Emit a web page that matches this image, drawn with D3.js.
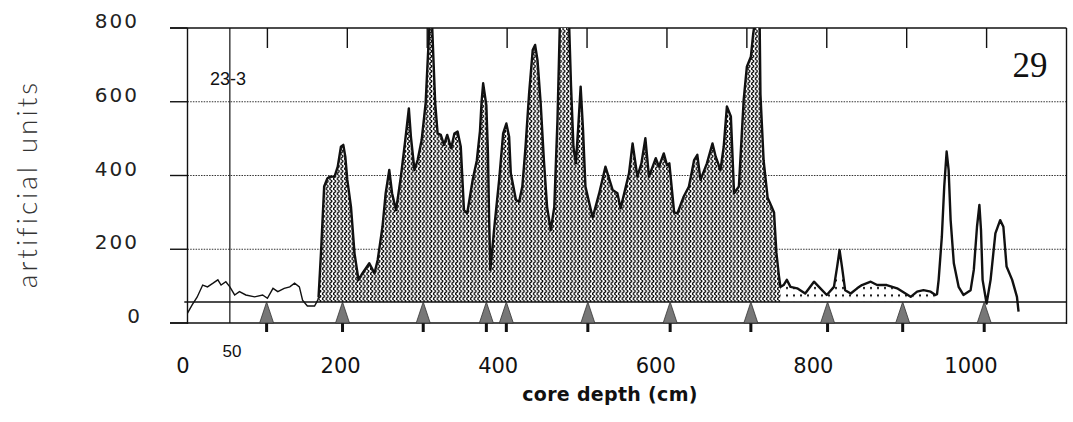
<!DOCTYPE html>
<html>
<head>
<meta charset="utf-8">
<script src="https://cdn.jsdelivr.net/npm/d3@7"></script>
<style>
  html, body { margin: 0; padding: 0; background: #fff; }
  svg { display: block; }
</style>
</head>
<body>
<svg id="chart"></svg>
<script>
//================DATA=========================
// core depth (cm) and signal (artificial units)
const depthCm = [
  0, 6, 12, 19, 25, 32, 38, 42, 48, 53, 59, 65, 73, 84, 94, 100, 107, 113, 121, 128,
  134, 140, 144, 150, 159, 163, 164, 167, 171, 175, 178, 184, 188, 192, 195, 197.5,
  200, 204.6, 209, 214, 219, 227.5, 234, 238, 244, 248, 252.5, 256, 261, 267, 272.5,
  277, 279.6, 284, 288, 293, 298, 301, 303, 306, 307.5, 310, 313, 317, 321, 325, 330,
  334, 338, 342, 346, 350, 357, 362, 366, 368, 370, 372, 374, 376, 377.5, 379, 384,
  390, 395, 399, 402.5, 404.6, 411, 415, 419, 423, 427.5, 432, 435, 438, 442, 446,
  450, 454.6, 459, 463, 466, 477.5, 480, 483, 486, 489, 492, 495, 498, 507, 515, 523,
  532, 538, 542, 552.5, 557, 563, 568, 573, 577.5, 586, 590, 596, 600, 603, 609, 613,
  621, 627.5, 634, 638, 642, 650, 657, 661, 667, 671, 675, 680, 684, 690, 696, 700,
  705, 708, 710, 716, 717, 721, 726, 731, 734, 737, 740, 742, 746, 750, 754.6, 763,
  773, 784, 792, 800, 809, 813, 816, 819, 823, 830, 838, 844, 855, 863, 875, 888, 905,
  913, 921, 930, 936, 938, 940, 944, 947, 950, 952.5, 955, 959, 965, 971, 980, 984,
  988, 991, 993, 995, 1000, 1005, 1011, 1017, 1021, 1025, 1032, 1038, 1040
];
const signal = [
  27, 50, 70, 103, 98, 108, 117, 103, 112, 98, 76, 85, 76, 71, 76, 67, 94, 85, 94, 98,
  108, 98, 62, 46, 46, 62, 70, 189, 370, 392, 397, 397, 424, 478, 483, 451,
  388, 315, 189, 117, 135, 162, 135, 171, 261, 352, 415, 352, 306, 397, 496,
  582, 505, 415, 442, 496, 596, 731, 815, 815, 731, 596, 514, 510, 483, 510, 474,
  514, 519, 478, 306, 297, 390, 440, 520, 600, 650, 620, 590, 460, 279, 144, 261,
  388, 514, 541, 505, 406, 334, 329, 370, 478, 623, 740, 754, 713, 596, 442,
  315, 252, 315, 551, 815, 815, 641, 478, 433, 532, 641, 523, 370, 286, 350, 424,
  361, 352, 311, 406, 487, 397, 433, 501, 397, 447, 424, 460, 428, 433, 300, 297,
  343, 370, 442, 456, 388, 433, 487, 451, 415, 478, 587, 560, 352, 370, 605, 695,
  722, 786, 815, 815, 620, 440, 340, 315, 300, 190, 130, 98, 103, 117, 98, 94,
  80, 112, 94, 76, 98, 153, 198, 153, 89, 80, 94, 103, 112, 103, 103, 94, 71,
  85, 89, 85, 76, 78, 117, 234, 370, 465, 415, 279, 162, 98, 76, 89, 144,
  261, 320, 252, 117, 53, 117, 243, 279, 261, 153, 117, 71, 31
];

// filled stretches of the record [from, to] in cm
const wavyStretch = [164, 742];
const dottedStretch = [742, 938];
const baseLevel = 57;

// sample markers (arrows) along the core, cm
const arrowDepths = [99, 194, 295, 374, 399, 501, 604, 705, 801, 895, 997];
const topTicks = [100, 200, 300, 400, 500, 600, 700, 800, 900, 1000];
const xTickLabels = [0, 200, 400, 600, 800, 1000];
const yTicks = [0, 200, 400, 600, 800];
const sectionDepth = 53;

//================LAYOUT=========================
const width = 1073;
const height = 422;

const x = d3.scaleLinear().domain([0, 1100]).range([187.5, 1066.5]);
// the pasted-in depth labels sit on a slightly shorter ruler than the plot
const xLabel = d3.scaleLinear().domain([0, 1000]).range([183, 971]);
const y = d3.scaleLinear().domain([0, 800]).range([323, 28]);

const svg = d3.select('#chart')
    .attr('width', width)
    .attr('height', height);

//-------patterns-------------
const defs = svg.append('defs');
const wavy = defs.append('pattern')
    .attr('id', 'wavy')
    .attr('patternUnits', 'userSpaceOnUse')
    .attr('width', 3.7)
    .attr('height', 5);
wavy.append('rect').attr('width', 3.7).attr('height', 5).attr('fill', '#fff');
wavy.append('path')
    .attr('d', 'M1.5,0 Q3.6,1.25 1.5,2.5 T1.5,5')
    .attr('fill', 'none')
    .attr('stroke', '#000')
    .attr('stroke-width', 1.35);

const dots = defs.append('pattern')
    .attr('id', 'dots')
    .attr('patternUnits', 'userSpaceOnUse')
    .attr('width', 7)
    .attr('height', 7.5);
dots.append('rect').attr('width', 7).attr('height', 7.5).attr('fill', '#fff');
dots.append('rect').attr('x', 2).attr('y', 2).attr('width', 2).attr('height', 2).attr('fill', '#111');

defs.append('clipPath')
    .attr('id', 'plotclip')
  .append('rect')
    .attr('x', x(0))
    .attr('y', y(800))
    .attr('width', x(1100) - x(0))
    .attr('height', y(0) - y(800));

const points = depthCm.map((d, i) => ({depth: d, value: signal[i]}));

//================GRID & FRAME=========================
const frame = svg.append('g');

// dotted grid lines
frame.selectAll('.grid')
    .data(yTicks.filter(v => v > 0 && v < 800))
  .enter().append('line')
    .attr('class', 'grid')
    .attr('x1', x(0)).attr('x2', x(1100))
    .attr('y1', d => y(d)).attr('y2', d => y(d))
    .attr('stroke', '#333')
    .attr('stroke-width', 1)
    .attr('stroke-dasharray', '1.5,1.2');

// y ticks, solid, sticking out to the left
frame.selectAll('.ytick')
    .data(yTicks)
  .enter().append('line')
    .attr('x1', 170).attr('x2', x(0))
    .attr('y1', d => y(d)).attr('y2', d => y(d))
    .attr('stroke', '#111')
    .attr('stroke-width', 1.4);

// top & bottom border
frame.selectAll('.hborder')
    .data([0, 800])
  .enter().append('line')
    .attr('x1', 170).attr('x2', x(1100))
    .attr('y1', d => y(d)).attr('y2', d => y(d))
    .attr('stroke', '#111')
    .attr('stroke-width', 1.4);

// left & right border
frame.selectAll('.vborder')
    .data([0, 1100])
  .enter().append('line')
    .attr('x1', d => x(d)).attr('x2', d => x(d))
    .attr('y1', y(800)).attr('y2', y(0) + 1)
    .attr('stroke', '#111')
    .attr('stroke-width', 1.4);

// short ticks hanging from the top border
frame.selectAll('.ttick')
    .data(topTicks)
  .enter().append('line')
    .attr('x1', d => x(d)).attr('x2', d => x(d))
    .attr('y1', y(800)).attr('y2', y(800) + 20)
    .attr('stroke', '#111')
    .attr('stroke-width', 1.4);

// section boundary line
frame.append('line')
    .attr('x1', x(sectionDepth)).attr('x2', x(sectionDepth))
    .attr('y1', y(800)).attr('y2', y(0))
    .attr('stroke', '#111')
    .attr('stroke-width', 1.2);

//================DATA PATHS=========================
const plot = svg.append('g').attr('clip-path', 'url(#plotclip)');

const area = d3.area()
    .x(d => x(d.depth))
    .y0(y(baseLevel))
    .y1(d => y(d.value));

const inStretch = s => points.filter(p => p.depth >= s[0] && p.depth <= s[1]);

plot.append('path')
    .datum(inStretch(wavyStretch))
    .attr('d', area)
    .attr('fill', 'url(#wavy)');

plot.append('path')
    .datum(inStretch(dottedStretch))
    .attr('d', area)
    .attr('fill', 'url(#dots)');

// base line of the fills
svg.append('line')
    .attr('x1', x(-4)).attr('x2', x(1100))
    .attr('y1', y(baseLevel)).attr('y2', y(baseLevel))
    .attr('stroke', '#111')
    .attr('stroke-width', 1.3);

const line = d3.line()
    .x(d => x(d.depth))
    .y(d => y(d.value));

// thin trace before the filled part, heavier afterwards
plot.append('path')
    .datum(points.filter(p => p.depth <= wavyStretch[0]))
    .attr('d', line)
    .attr('fill', 'none')
    .attr('stroke', '#111')
    .attr('stroke-width', 1.4);

plot.append('path')
    .datum(points.filter(p => p.depth >= wavyStretch[0]))
    .attr('d', line)
    .attr('fill', 'none')
    .attr('stroke', '#111')
    .attr('stroke-width', 2.4)
    .attr('stroke-linejoin', 'round');

//================ARROWS=========================
const arrows = svg.selectAll('.arrow')
    .data(arrowDepths)
  .enter().append('g')
    .attr('class', 'arrow');

arrows.append('rect')
    .attr('x', d => x(d) - 1.5)
    .attr('y', y(0))
    .attr('width', 3)
    .attr('height', 9)
    .attr('fill', '#111');

arrows.append('path')
    .attr('d', d => `M${x(d)},${y(baseLevel)} L${x(d) + 7},${y(0)} L${x(d) - 7},${y(0)} Z`)
    .attr('fill', '#777')
    .attr('stroke', '#333')
    .attr('stroke-width', 0.8);

//================TEXT=========================
svg.selectAll('.ylabel')
    .data(yTicks)
  .enter().append('text')
    .attr('x', d => d === 0 ? 142 : 139)
    .attr('y', d => y(d))
    .attr('text-anchor', 'end')
    .attr('font-family', 'DejaVu Sans, sans-serif')
    .attr('font-size', 20)
    .attr('letter-spacing', 2)
    .attr('fill', '#222')
    .text(d => d);

svg.selectAll('.xlabel')
    .data(xTickLabels)
  .enter().append('text')
    .attr('x', d => xLabel(d))
    .attr('y', 373)
    .attr('text-anchor', 'middle')
    .attr('font-family', 'DejaVu Sans, sans-serif')
    .attr('font-size', 21)
    .attr('fill', '#111')
    .text(d => d);

svg.append('text')
    .attr('x', 610)
    .attr('y', 401)
    .attr('text-anchor', 'middle')
    .attr('font-family', 'DejaVu Sans, sans-serif')
    .attr('font-weight', 'bold')
    .attr('font-size', 19)
    .attr('letter-spacing', 0.3)
    .attr('fill', '#111')
    .text('core depth (cm)');

svg.append('text')
    .attr('transform', 'translate(37,184) rotate(-90)')
    .attr('text-anchor', 'middle')
    .attr('font-family', 'Lato, Open Sans, sans-serif')
    .attr('font-weight', 300)
    .attr('font-size', 28)
    .attr('letter-spacing', 3)
    .attr('fill', '#333')
    .text('artificial units');

svg.append('text')
    .attr('x', 1030)
    .attr('y', 77)
    .attr('text-anchor', 'middle')
    .attr('font-family', 'Liberation Serif, serif')
    .attr('font-size', 35)
    .attr('fill', '#111')
    .text('29');

svg.append('text')
    .attr('x', 210)
    .attr('y', 85)
    .attr('font-family', 'Liberation Sans Narrow, Liberation Sans, sans-serif')
    .attr('font-size', 18)
    .attr('fill', '#111')
    .text('23-3');

svg.append('text')
    .attr('x', 232)
    .attr('y', 357)
    .attr('text-anchor', 'middle')
    .attr('font-family', 'Liberation Sans Narrow, Liberation Sans, sans-serif')
    .attr('font-size', 17)
    .attr('fill', '#111')
    .text('50');
</script>
</body>
</html>
